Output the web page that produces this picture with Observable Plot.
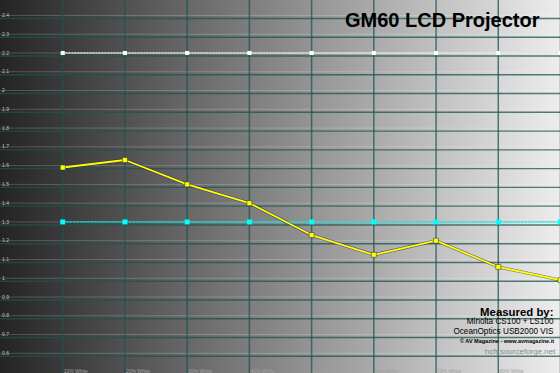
<!DOCTYPE html>
<html>
<head>
<meta charset="utf-8">
<script src="https://cdn.jsdelivr.net/npm/d3@7"></script>
<script src="https://cdn.jsdelivr.net/npm/@observablehq/plot@0.6"></script>
<style>
  html, body { margin: 0; padding: 0; background: #222; }
  #chart svg { display: block; }
</style>
</head>
<body>
<div id="chart"></div>
<script>
// ---- data ----
const levels = [10, 20, 30, 40, 50, 60, 70, 80, 90];
const labelLevels = [10, 20, 30, 40, 50, 60, 70, 80];
const levelLabels = ["10% White", "20% White", "30% White", "40% White", "50% White", "60% White", "70% White", "80% White"];
const measuredGamma = [1.59, 1.63, 1.50, 1.40, 1.23, 1.125, 1.20, 1.06, 0.99];
const targetGamma = [2.2, 2.2, 2.2, 2.2, 2.2, 2.2, 2.2, 2.2, 2.2];
const referenceGamma = [1.3, 1.3, 1.3, 1.3, 1.3, 1.3, 1.3, 1.3, 1.3];
const yTicks = [0.6, 0.7, 0.8, 0.9, 1.0, 1.1, 1.2, 1.3, 1.4, 1.5, 1.6, 1.7, 1.8, 1.9, 2.0, 2.1, 2.2, 2.3, 2.4];
const yTickLabels = ["0.6", "0.7", "0.8", "0.9", "1", "1.1", "1.2", "1.3", "1.4", "1.5", "1.6", "1.7", "1.8", "1.9", "2", "2.1", "2.2", "2.3", "2.4"];
const titleText = "GM60 LCD Projector";
const creditLines = ["Measured by:", "Minolta CS100 + LS100", "OceanOptics USB2000 VIS", "© AV Magazine - www.avmagazine.it"];
const sourceText = "hcfr.sourceforge.net";

const rows = levels.map((l, i) => ({
  level: l, measured: measuredGamma[i], target: targetGamma[i], reference: referenceGamma[i]
}));
const xLabelRows = labelLevels.map((l, i) => ({level: l, label: levelLabels[i]}));
const yRows = yTicks.map((v, i) => ({v, label: yTickLabels[i]}));

const font = "'Liberation Sans', Arial, sans-serif";

const chart = Plot.plot({
  width: 560,
  height: 373,
  margin: 0,
  x: {domain: [0, 90], axis: null},
  y: {domain: [0.4925, 2.4797], axis: null},
  style: {
    background: "linear-gradient(to right, #242424, #ededed)",
    fontFamily: font,
    overflow: "hidden"
  },
  marks: [
    // grid
    Plot.ruleY(yTicks, {stroke: "#ffffff", strokeOpacity: 0.2, strokeWidth: 1}),
    Plot.ruleY(yTicks, {stroke: "#1e5450", strokeOpacity: 0.75, strokeWidth: 1.4, dy: 3}),
    Plot.ruleX(levels, {stroke: "#1e5450", strokeOpacity: 0.75, strokeWidth: 1.5}),
    // y tick labels
    Plot.text(yRows, {x: () => 0, y: "v", text: "label", textAnchor: "start", dx: 1.5, fontSize: 5, fill: "#c0c0c0"}),
    // x tick labels
    Plot.text(xLabelRows, {x: "level", text: "label", frameAnchor: "bottom", textAnchor: "start", lineAnchor: "bottom", dx: 1, dy: -1, fontSize: 5, fill: "#a0a0a0"}),
    // target 2.2 (white dotted)
    Plot.line(rows, {x: "level", y: "target", stroke: "#e8e8e8", strokeWidth: 1.3, strokeDasharray: "1.5 1.5"}),
    Plot.dot(rows, {x: "level", y: "target", symbol: "square", r: 2.3, fill: "#ffffff", stroke: "none"}),
    // reference 1.3 (cyan dotted)
    Plot.line(rows, {x: "level", y: "reference", stroke: "#00e8e8", strokeWidth: 1.3, strokeDasharray: "2 1.5"}),
    Plot.dot(rows, {x: "level", y: "reference", symbol: "square", r: 2.8, fill: "#00ffff", stroke: "none"}),
    // measured gamma (yellow)
    Plot.line(rows, {x: "level", y: "measured", stroke: "#1c1c60", strokeWidth: 3, strokeOpacity: 0.6}),
    Plot.line(rows, {x: "level", y: "measured", stroke: "#ffff00", strokeWidth: 1.8}),
    Plot.dot(rows, {x: "level", y: "measured", symbol: "square", r: 2.8, fill: "#ffff00", stroke: "#2a2a50", strokeWidth: 0.5}),
    // title
    Plot.text([titleText], {frameAnchor: "top-right", lineAnchor: "top", dx: -21, dy: 12, fontSize: 20, fontWeight: "bold", fill: "#000"}),
    // credits
    Plot.text([creditLines[0]], {frameAnchor: "top-right", lineAnchor: "top", dx: -7, dy: 307, fontSize: 11.4, fontWeight: "bold", fill: "#000"}),
    Plot.text([creditLines[1]], {frameAnchor: "top-right", lineAnchor: "top", dx: -7, dy: 318, fontSize: 8.2, fill: "#000"}),
    Plot.text([creditLines[2]], {frameAnchor: "top-right", lineAnchor: "top", dx: -7, dy: 327.2, fontSize: 8.2, fill: "#000"}),
    Plot.text([creditLines[3]], {frameAnchor: "top-right", lineAnchor: "top", dx: -6.5, dy: 338.2, fontSize: 5.5, fontWeight: "bold", fill: "#000"}),
    Plot.text([sourceText], {frameAnchor: "top-right", lineAnchor: "top", dx: -5, dy: 347.8, fontSize: 8, fill: "#8a8a8a"})
  ]
});
document.getElementById("chart").appendChild(chart);
</script>
</body>
</html>
